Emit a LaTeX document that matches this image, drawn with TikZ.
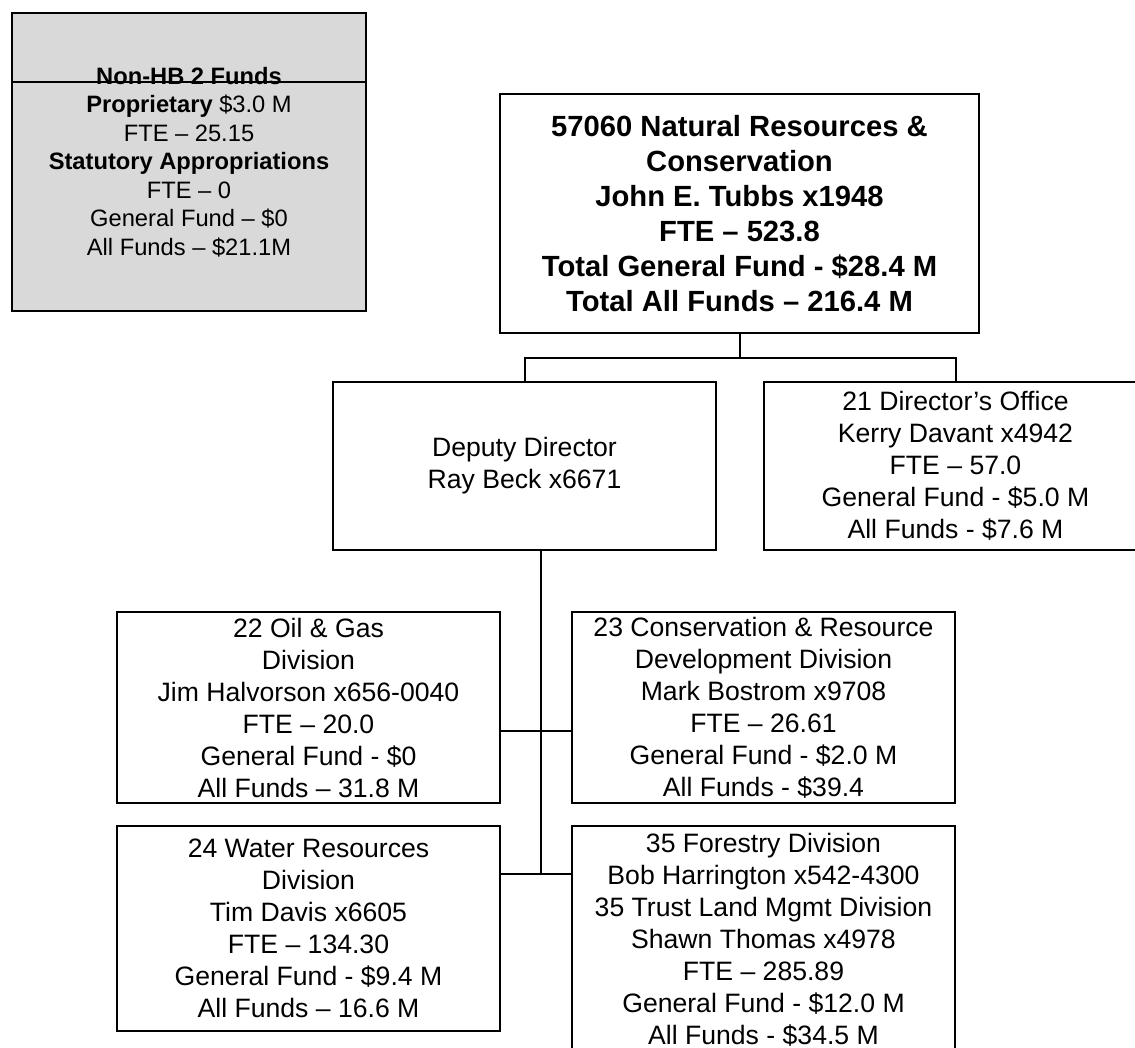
\documentclass[tikz,border=0pt]{standalone}
\usepackage{fontspec}
\setmainfont{Liberation Sans}
\usetikzlibrary{positioning}

\begin{document}
\begin{tikzpicture}[x=0.5pt, y=-0.5pt, node distance=11.5pt and 36pt, line width=1pt]

        \tikzstyle{block} = [rectangle, draw, inner sep=0pt, outer sep=0pt, minimum width=191.5pt, align=center, font=\fontsize{13.3}{16}\selectfont]
        \tikzstyle{head} = [block, font=\bfseries\fontsize{14.6}{17.5}\selectfont]

        \path [use as bounding box, clip] (0,0) rectangle (1135,1048);

        \node [block, fill=gray!30, minimum width=177pt, minimum height=149pt, font=\fontsize{11.85}{14.25}\selectfont] (nonhb) at (189,162) {\textbf{Non-HB 2 Funds}\\ \textbf{Proprietary} \$3.0 M\\ FTE – 25.15\\ \textbf{Statutory Appropriations}\\ FTE – 0\\ General Fund – \$0\\ All Funds – \$21.1M};
        \coordinate (rule) at (189,82);
        \draw (nonhb.west |- rule) -- (nonhb.east |- rule);

        \node [head, minimum width=239.5pt, minimum height=119.5pt] (top) at (739.5,213.5) {57060 Natural Resources \&\\ Conservation\\ John E. Tubbs x1948\\ FTE – 523.8\\ Total General Fund - \$28.4 M\\ Total All Funds – 216.4 M};

        \node [block, minimum height=84pt] (deputy) at (524.5,466) {Deputy Director\\ Ray Beck x6671};
        \node [block, minimum height=84pt, right=24pt of deputy] (office) {21 Director’s Office\\ Kerry Davant x4942\\ FTE – 57.0\\ General Fund - \$5.0 M\\ All Funds - \$7.6 M};

        \node [block, minimum height=95.5pt] (oilgas) at (308.5,707.5) {22 Oil \& Gas\\ Division\\ Jim Halvorson x656-0040\\ FTE – 20.0\\ General Fund - \$0\\ All Funds – 31.8 M};
        \node [block, minimum height=95.5pt, right=of oilgas] (conserv) {23 Conservation \& Resource\\ Development Division\\ Mark Bostrom x9708\\ FTE – 26.61\\ General Fund - \$2.0 M\\ All Funds - \$39.4};
        \node [block, minimum height=102.5pt, below=of oilgas] (water) {24 Water Resources\\ Division\\ Tim Davis x6605\\ FTE – 134.30\\ General Fund - \$9.4 M\\ All Funds – 16.6 M};
        \node [block, minimum height=113.5pt, below=of conserv] (forestry) {35 Forestry Division\\ Bob Harrington x542-4300\\ 35 Trust Land Mgmt Division\\ Shawn Thomas x4978\\ FTE – 285.89\\ General Fund - \$12.0 M\\ All Funds - \$34.5 M};

        \coordinate (bar) at (739.5,358);
        \coordinate (tee) at (541,731);
        \coordinate (foot) at (541,874);

        \draw (top.south) -- (bar);
        \draw (deputy.north) |- (bar) -| (office.north);
        \draw (deputy.south -| foot) -- (foot);
        \draw (oilgas.east |- tee) -- (conserv.west |- tee);
        \draw (water.east |- foot) -- (forestry.west |- foot);

    \end{tikzpicture}
\end{document}
